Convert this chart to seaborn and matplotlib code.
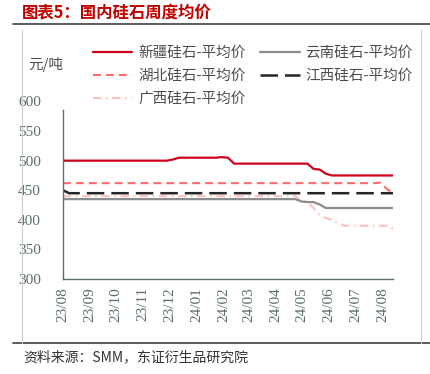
import matplotlib
matplotlib.use("Agg")
import matplotlib.pyplot as plt
import matplotlib.dates as mdates
from matplotlib.lines import Line2D
import pandas as pd
import seaborn as sns

# ---------------- data ----------------
dates = pd.date_range("2023-08-01", periods=55, freq="7D")

xinjiang = [500, 500, 500, 500, 500, 500, 500, 500, 500, 500,
            500, 500, 500, 500, 500, 500, 500, 500, 502, 505,
            505, 505, 505, 505, 505, 505, 506, 505, 495, 495,
            495, 495, 495, 495, 495, 495, 495, 495, 495, 495,
            495, 486, 485, 478, 475, 475, 475, 475, 475, 475,
            475, 475, 475, 475, 475]
yunnan = [435, 435, 435, 435, 435, 435, 435, 435, 435, 435,
          435, 435, 435, 435, 435, 435, 435, 435, 435, 435,
          435, 435, 435, 435, 435, 435, 435, 435, 435, 435,
          435, 435, 435, 435, 435, 435, 435, 435, 435, 431,
          430, 430, 426, 420, 420, 420, 420, 420, 420, 420,
          420, 420, 420, 420, 420]
hubei = [462, 462, 462, 462, 462, 462, 462, 462, 462, 462,
         462, 462, 462, 462, 462, 462, 462, 462, 462, 462,
         462, 462, 462, 462, 462, 462, 462, 462, 462, 462,
         462, 462, 462, 462, 462, 462, 462, 462, 462, 462,
         462, 462, 462, 462, 462, 462, 462, 462, 462, 462,
         462, 462, 463, 452, 445]
jiangxi = [450, 445, 445, 445, 445, 445, 445, 445, 445, 445,
           445, 445, 445, 445, 445, 445, 445, 445, 445, 445,
           445, 445, 445, 445, 445, 445, 445, 445, 445, 445,
           445, 445, 445, 445, 445, 445, 445, 445, 445, 445,
           445, 445, 445, 445, 445, 445, 445, 445, 445, 445,
           445, 445, 445, 445, 445]
guangxi = [440, 440, 440, 440, 440, 440, 440, 440, 440, 440,
           440, 440, 440, 440, 440, 440, 440, 440, 440, 440,
           440, 440, 440, 440, 440, 440, 440, 440, 440, 440,
           440, 440, 440, 440, 440, 440, 440, 440, 440, 432,
           430, 420, 408, 403, 400, 394, 390, 390, 390, 390,
           390, 390, 390, 390, 385]

names = ["新疆硅石-平均价", "云南硅石-平均价", "湖北硅石-平均价",
         "江西硅石-平均价", "广西硅石-平均价"]
title = "图表5：国内硅石周度均价"
unit = "元/吨"
source = "资料来源：SMM，东证衍生品研究院"
yticks = [300, 350, 400, 450, 500, 550, 600]

# ---------------- style ----------------
sns.set_style("white")
plt.rcParams["font.family"] = ["Noto Sans CJK SC", "DejaVu Sans"]

W, H = 430, 374
fig = plt.figure(figsize=(W / 100, H / 100), dpi=100)


def fx(px):
    return px / W


def fy(py):
    return 1 - py / H


ax = fig.add_axes([fx(63), fy(279), fx(393) - fx(63), fy(101.5) - fy(279)])

axis_col = "#5b6d6d"
# legend order (column-major): 新疆, 湖北, 广西 | 云南, 江西
series = [
    (xinjiang, names[0], "#D0021B", 1.6, None),
    (hubei, names[2], "#FF6B6B", 1.5, (3.8, 2.4)),
    (guangxi, names[4], "#FFBFBF", 1.5, (4.0, 2.2, 0.8, 2.2)),
    (yunnan, names[1], "#8C8C8C", 1.6, None),
    (jiangxi, names[3], "#262626", 1.8, (7.0, 2.8)),
]

draw_order = [2, 3, 1, 4, 0]
handles = {}
for i in draw_order:
    vals, name, col, lw, dash = series[i]
    df = pd.DataFrame({"date": dates, "value": vals})
    sns.lineplot(data=df, x="date", y="value", ax=ax, color=col,
                 linewidth=lw, legend=False)
    ln = ax.get_lines()[-1]
    if dash is not None:
        ln.set_dashes(dash)
    handles[i] = ln

if ax.get_legend() is not None:
    ax.get_legend().remove()

ax.set_xlim(dates[0], dates[-1])
ax.set_ylim(300, 600)
ax.set_yticks(yticks)
ax.set_xlabel("")
ax.set_ylabel("")

ax.xaxis.set_major_locator(mdates.MonthLocator())
ax.xaxis.set_major_formatter(mdates.DateFormatter("%y/%m"))

for s in ["top", "right"]:
    ax.spines[s].set_visible(False)
for s in ["left", "bottom"]:
    ax.spines[s].set_color(axis_col)
    ax.spines[s].set_linewidth(1.0)
ax.spines["left"].set_bounds(300, 585)

ax.tick_params(axis="x", direction="in", length=4, width=1.0, color=axis_col,
               labelrotation=90, pad=6, labelsize=11, labelcolor=axis_col,
               labelfontfamily="Liberation Serif")
ax.tick_params(axis="y", length=0, pad=16, labelsize=11, labelcolor=axis_col,
               labelfontfamily="Liberation Serif")

# legend
order = [0, 1, 2, 3, 4]
fig.legend(handles=[handles[i] for i in order],
           labels=[series[i][1] for i in order],
           loc="upper left", bbox_to_anchor=(fx(93), fy(46)),
           ncol=2, frameon=False, fontsize=10.5, handlelength=2.7,
           handletextpad=0.4, columnspacing=1.0, labelspacing=0.62,
           borderpad=0, borderaxespad=0, labelcolor="#4d4d4d")

# texts
fig.text(fx(22), fy(12), title, color="#C00000", fontsize=11.8, fontweight="bold",
         va="center", ha="left")
fig.text(fx(28), fy(65), unit, color="#4d4d4d", fontsize=10.5, va="center", ha="left")
fig.text(fx(23), fy(357), source, color="#333333", fontsize=10, va="center", ha="left")

# frame decorations
fig.add_artist(Line2D([fx(13), fx(430)], [fy(24), fy(24)], color="#404040", lw=1.2))
fig.add_artist(Line2D([fx(13), fx(430)], [fy(343), fy(343)], color="#404040", lw=1.2))
fig.add_artist(Line2D([fx(22), fx(22)], [fy(30), fy(343)], color="#cccccc", lw=0.8))
fig.add_artist(Line2D([fx(420.5), fx(420.5)], [fy(30), fy(343)], color="#cccccc", lw=0.8))

fig.savefig("out.png", dpi=100)
